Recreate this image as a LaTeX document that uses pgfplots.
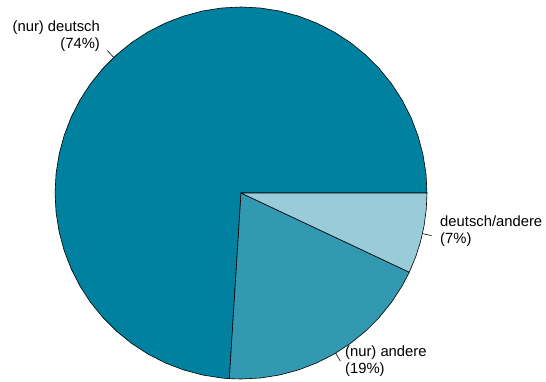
\documentclass[border=0pt]{standalone}
\usepackage{pgfplots}
\pgfplotsset{compat=1.18}
\usepackage{fontspec}
\setmainfont{Liberation Sans}
\definecolor{cA}{RGB}{0,129,159}
\definecolor{cB}{RGB}{51,153,178}
\definecolor{cC}{RGB}{153,204,216}
\tikzset{lbl/.style={font=\fontsize{14.8}{16.8}\selectfont, inner sep=0pt}}
\begin{document}
\begin{tikzpicture}
\begin{axis}[
  scale only axis, width=546pt, height=382pt,
  xmin=-1.296, xmax=1.640, ymin=-1.016, ymax=1.0376,
  hide axis, clip=false,
  every axis plot/.append style={draw=black, line width=0.6pt, line join=round},
]
\path (rel axis cs:0,0) rectangle (rel axis cs:1,1);
% (nur) deutsch: 74% -> 0 to 266.4 deg
\addplot[fill=cA, data cs=polar] coordinates {
 (0,0) (0,1) (6,1) (12,1) (18,1) (24,1) (30,1) (36,1) (42,1) (48,1) (54,1)
 (60,1) (66,1) (72,1) (78,1) (84,1) (90,1) (96,1) (102,1) (108,1) (114,1)
 (120,1) (126,1) (132,1) (138,1) (144,1) (150,1) (156,1) (162,1) (168,1)
 (174,1) (180,1) (186,1) (192,1) (198,1) (204,1) (210,1) (216,1) (222,1)
 (228,1) (234,1) (240,1) (246,1) (252,1) (258,1) (264,1) (266.4,1)
} -- cycle;
% (nur) andere: 19% -> 266.4 to 334.8 deg
\addplot[fill=cB, data cs=polar] coordinates {
 (0,0) (266.4,1) (270,1) (276,1) (282,1) (288,1) (294,1) (300,1) (306,1)
 (312,1) (318,1) (324,1) (330,1) (334.8,1)
} -- cycle;
% deutsch/andere: 7% -> 334.8 to 360 deg
\addplot[fill=cC, data cs=polar] coordinates {
 (0,0) (334.8,1) (340,1) (345,1) (350,1) (355,1) (360,1)
} -- cycle;
% label ticks
\addplot[data cs=polar] coordinates {(133.2,1) (133.2,1.05)};
\addplot[data cs=polar] coordinates {(300.6,1) (300.6,1.05)};
\addplot[data cs=polar] coordinates {(347.4,1) (347.4,1.05)};
\node[lbl, anchor=east, align=right] at (axis cs:-0.758,0.844) {(nur) deutsch\\(74\%)};
\node[lbl, anchor=west, align=left] at (axis cs:1.070,-0.204) {deutsch/andere\\(7\%)};
\node[lbl, anchor=west, align=left] at (axis cs:0.559,-0.903) {(nur) andere\\(19\%)};
\end{axis}
\end{tikzpicture}
\end{document}
